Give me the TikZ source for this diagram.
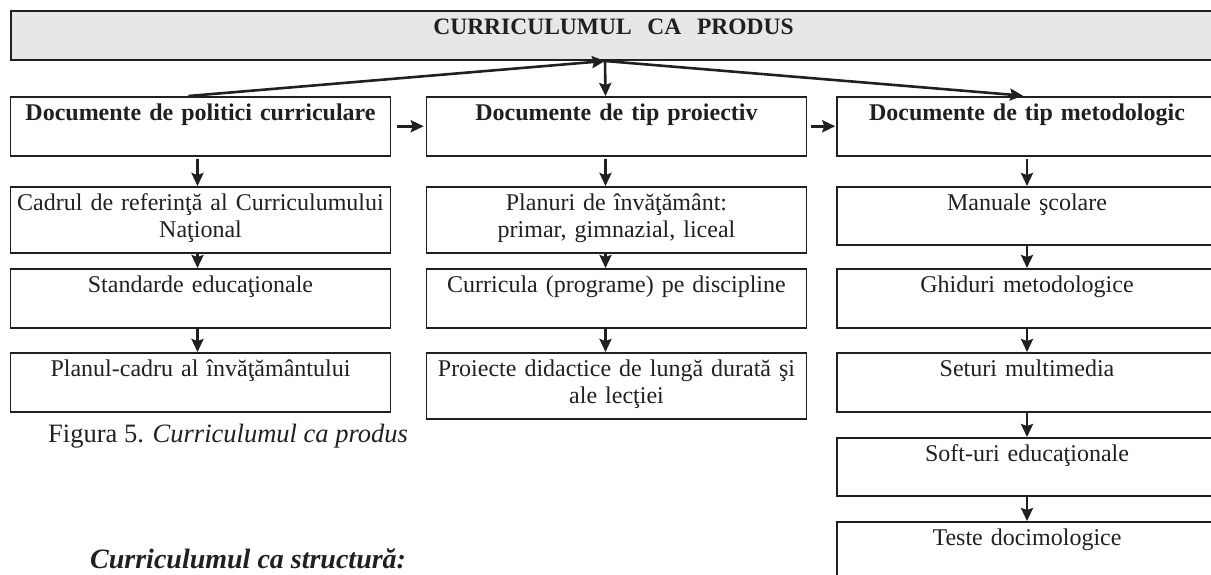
\documentclass[tikz,border=0pt]{standalone}
\usepackage{fontspec}
\setmainfont{Liberation Serif}
\usetikzlibrary{arrows.meta}
\definecolor{ink}{HTML}{231F20}
\definecolor{headgray}{HTML}{E6E7E8}
\tikzset{
  box/.style={draw=ink, text=ink, line width=1.5pt, anchor=north, inner sep=0pt,
    text width=380pt, align=center, text height=24pt, text depth=#1,
    font=\fontsize{24}{27}\selectfont},
  head/.style={font=\fontsize{24}{27}\selectfont\bfseries},
  arr/.style={draw=ink, line width=2.6pt, -{Stealth[length=13pt,width=12pt,inset=2pt]}}
}
\begin{document}
\begin{tikzpicture}[x=1pt,y=-1pt]
    \useasboundingbox (0,0) rectangle (1211,574);
    \clip (0,0) rectangle (1211,574);
    \node[box=25pt, fill=headgray, text width=1205pt, font=\fontsize{23.5}{28}\selectfont\bfseries] (prod) at (613.5,10) {CURRICULUMUL\ \ CA\ \ PRODUS};
    \begin{scope}[xshift=200.5pt]
      \node[box=35pt, head] (pol) at (0,96) {Documente de politici curriculare};
      \node[box=42pt] (cadru) at (0,186) {Cadrul de referinţă al Curriculumului\\Naţional};
      \node[box=35pt] (std) at (0,268) {Standarde educaţionale};
      \node[box=35pt] (plan) at (0,352) {Planul-cadru al învăţământului};
    \end{scope}
    \begin{scope}[xshift=616.5pt]
      \node[box=35pt, head] (proi) at (0,96) {Documente de tip proiectiv};
      \node[box=42pt] (planuri) at (0,186) {Planuri de învăţământ:\\primar, gimnazial, liceal};
      \node[box=35pt] (curr) at (0,268) {Curricula (programe) pe discipline};
      \node[box=42pt] (didact) at (0,352) {Proiecte didactice de lungă durată şi\\ale lecţiei};
    \end{scope}
    \begin{scope}[xshift=1027pt]
      \node[box=35pt, head] (met) at (0,96) {Documente de tip metodologic};
      \node[box=34pt] (man) at (0,186) {Manuale şcolare};
      \node[box=35pt] (ghid) at (0,268) {Ghiduri metodologice};
      \node[box=35pt] (set) at (0,352) {Seturi multimedia};
      \node[box=34pt] (soft) at (0,437) {Soft-uri educaţionale};
      \node[box=46pt] (test) at (0,521) {Teste docimologice};
    \end{scope}
    \node[anchor=base west, inner sep=0pt, text=ink, font=\fontsize{26.5}{30}\selectfont] (fig) at (48,442) {Figura 5. \textit{Curriculumul ca produs}};
    \node[anchor=base west, inner sep=0pt, text=ink, font=\fontsize{28}{31}\selectfont\bfseries\itshape] (struct) at (90,568) {Curriculumul ca structură:};
    % arrows from the title
    \coordinate (hub) at (605,61);
    \draw[arr] ([xshift=-12pt]pol.north) -- (hub);
    \draw[arr] (hub) -- ([xshift=-11pt]proi.north);
    \draw[arr, shorten >=4pt] (hub) -- (met.north);
    \draw[arr, shorten <=6pt, shorten >=2pt] (pol.east) -- (proi.west);
    \draw[arr, shorten <=4pt, shorten >=1pt] (proi.east) -- (met.west);
    % columns
    \draw[arr, shorten <=2pt] ([xshift=-3pt]pol.south) -- ([xshift=-3pt]cadru.north);
    \draw[arr] ([xshift=-3pt]cadru.south) -- ([xshift=-3pt]std.north);
    \draw[arr] ([xshift=-3pt]std.south) -- ([xshift=-3pt]plan.north);
    \draw[arr, shorten <=2pt] ([xshift=-11pt]proi.south) -- ([xshift=-11pt]planuri.north);
    \draw[arr] ([xshift=-11pt]planuri.south) -- ([xshift=-11pt]curr.north);
    \draw[arr] ([xshift=-11pt]curr.south) -- ([xshift=-11pt]didact.north);
    \draw[arr, shorten <=2pt] (met.south) -- (man.north);
    \draw[arr] (man.south) -- (ghid.north);
    \draw[arr] (ghid.south) -- (set.north);
    \draw[arr] (set.south) -- (soft.north);
    \draw[arr] (soft.south) -- (test.north);
\end{tikzpicture}
\end{document}
